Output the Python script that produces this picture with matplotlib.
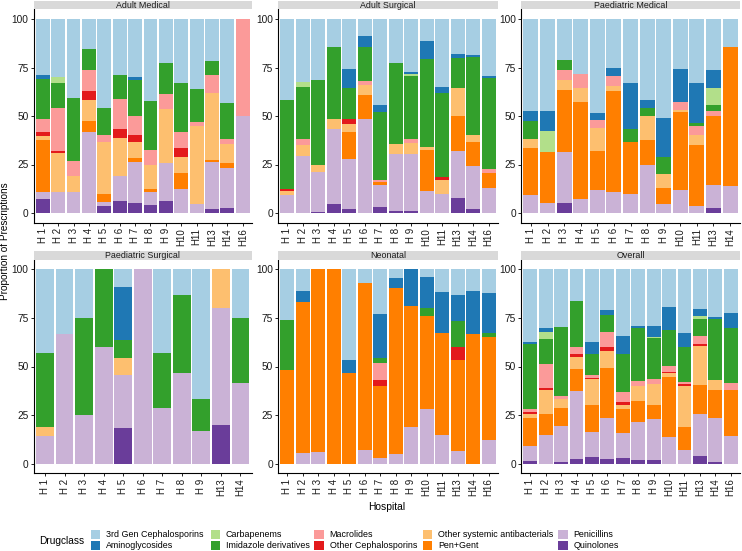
import numpy as np
import matplotlib
matplotlib.use("Agg")
import matplotlib.pyplot as plt
from matplotlib.patches import Rectangle

plt.rcParams['font.family'] = ['Liberation Sans', 'DejaVu Sans']

# ---------------- data ----------------
drug_classes = ["3rd Gen Cephalosporins", "Aminoglycosides", "Carbapenems",
                "Imidazole derivatives", "Macrolides", "Other Cephalosporins",
                "Other systemic antibacterials", "Pen+Gent", "Penicillins", "Quinolones"]
class_colors = ["#A6CEE3", "#1F78B4", "#B2DF8A", "#33A02C", "#FB9A99",
                "#E31A1C", "#FDBF6F", "#FF7F00", "#CAB2D6", "#6A3D9A"]

# cumulative percentage tops per bar, stacked from the bottom in the order:
# Quinolones, Penicillins, Pen+Gent, Other systemic, Other Ceph, Macrolides,
# Imidazole, Carbapenems, Aminoglycosides  (3rd Gen Ceph fills up to 100)
hosp_adult = ["H 1", "H 2", "H 3", "H 4", "H 5", "H 6", "H 7", "H 8", "H 9",
              "H10", "H11", "H13", "H14", "H16"]
hosp_paed_med = ["H 1", "H 2", "H 3", "H 4", "H 5", "H 6", "H 7", "H 8", "H 9",
                 "H10", "H11", "H13", "H14"]
hosp_paed_surg = ["H 1", "H 2", "H 3", "H 4", "H 5", "H 6", "H 7", "H 8", "H 9",
                  "H13", "H14"]
hosp_neo = ["H 1", "H 2", "H 3", "H 4", "H 5", "H 6", "H 7", "H 8", "H 9",
            "H10", "H11", "H13", "H14", "H16"]

adult_medical = [
    [7, 11, 37.5, 39.5, 42, 48.7, 69, 69, 71],
    [0, 11, 11, 31, 32, 54, 67, 70, 70],
    [0, 11, 11, 19, 19, 27, 59.5, 59.5, 59.5],
    [0, 42, 47.3, 58, 63, 73.7, 84.3, 84.3, 84.3],
    [3.8, 5.7, 9.6, 36.7, 36.7, 40, 54, 54, 54],
    [6.2, 19, 19, 38.7, 43.5, 58.7, 71, 71, 71],
    [5, 26.3, 28.6, 36.7, 40, 50, 68.5, 68.5, 70],
    [4.1, 10.8, 12.4, 25, 25, 32.7, 57.7, 57.7, 57.7],
    [6.4, 25.8, 25.8, 53.4, 53.4, 61.3, 77.5, 77.5, 77.5],
    [0, 12.4, 20.8, 28.9, 33.6, 41.5, 66.8, 66.8, 66.8],
    [0, 4.8, 4.8, 45, 45, 47, 63.7, 63.7, 63.7],
    [2, 26.3, 27.5, 62, 62, 71, 78.3, 78.3, 78.3],
    [2.4, 23, 25.8, 35.8, 35.8, 38.4, 56.5, 56.5, 56.5],
    [0, 50, 50, 50, 50, 100, 100, 100, 100],
]
adult_surgical = [
    [0, 9.5, 9.5, 11.4, 12.2, 12.2, 58.2, 58.2, 58.2],
    [0, 29.3, 29.3, 35.3, 35.3, 37.9, 64.7, 67.6, 67.6],
    [0.7, 21.3, 21.3, 25, 25, 25, 68.5, 68.5, 68.5],
    [4.8, 43.5, 43.5, 48.7, 48.7, 48.7, 85.4, 85.4, 85.4],
    [1.9, 28, 41.8, 46.1, 48.2, 48.2, 64.2, 64.2, 74.2],
    [0, 48.2, 60.8, 65.9, 65.9, 68, 85.7, 85.7, 91.2],
    [3.1, 14.3, 16, 16, 16, 17.2, 52.2, 52.2, 55.6],
    [1, 30.3, 30.3, 35.5, 35.5, 35.5, 77.1, 77.1, 77.1],
    [1, 30.3, 30.3, 36.1, 36.1, 37.9, 70.6, 71.9, 72.6],
    [0, 11.2, 32.4, 34.1, 34.1, 34.1, 79.2, 79.2, 88.8],
    [0, 9.6, 9.6, 16.9, 18.6, 18.6, 62.1, 62.1, 64.7],
    [7.9, 31.8, 49.9, 64.2, 64.2, 64.2, 80, 80, 81.9],
    [1.9, 24.3, 36.7, 40.1, 40.1, 40.1, 80.5, 80.5, 81.4],
    [0, 13.1, 20.7, 20.7, 20.7, 22.9, 69.7, 69.7, 70.7],
]
paediatric_medical = [
    [0, 9.5, 33.6, 37.9, 37.9, 37.9, 47.5, 47.5, 52.5],
    [0, 5.2, 31.5, 31.5, 31.5, 31.5, 31.5, 42.2, 52.7],
    [5.3, 31.5, 63.3, 68.5, 68.5, 73.7, 78.8, 78.8, 78.8],
    [0, 7.1, 57.3, 64.2, 64.2, 71.6, 71.6, 71.6, 71.6],
    [0, 11.7, 32, 43.9, 43.9, 47.8, 47.8, 47.8, 51.8],
    [0, 10.7, 63, 65.4, 65.4, 70.6, 70.6, 70.6, 74.5],
    [0, 10, 36.5, 36.5, 36.5, 36.5, 43.4, 43.4, 66.8],
    [0, 25, 37.5, 49.9, 49.9, 49.9, 54, 54, 58.5],
    [0, 4.5, 13.1, 20, 20, 20, 28.9, 28.9, 48.9],
    [0, 11.7, 52.2, 53, 53, 57.1, 57.1, 57.1, 74],
    [0, 3.4, 34.9, 40.1, 40.1, 44.9, 46.6, 46.6, 66.8],
    [2.8, 14.6, 49.9, 49.9, 49.9, 52.7, 55.6, 64.5, 73.7],
    [0, 14.1, 85.7, 85.7, 85.7, 85.7, 85.7, 85.7, 85.7],
]
paediatric_surgical = [
    [0, 14.2, 14.2, 19, 19, 19, 57.1, 57.1, 57.1],
    [0, 66.7, 66.7, 66.7, 66.7, 66.7, 66.7, 66.7, 66.7],
    [0, 25, 25, 25, 25, 25, 75, 75, 75],
    [0, 60, 60, 60, 60, 60, 100, 100, 100],
    [18.2, 45.5, 45.5, 54.5, 54.5, 54.5, 63.6, 63.6, 90.9],
    [0, 100, 100, 100, 100, 100, 100, 100, 100],
    [0, 28.6, 28.6, 28.6, 28.6, 28.6, 57.1, 57.1, 57.1],
    [0, 46.7, 46.7, 46.7, 46.7, 46.7, 86.7, 86.7, 86.7],
    [0, 16.7, 16.7, 16.7, 16.7, 16.7, 33.3, 33.3, 33.3],
    [20, 80, 80, 100, 100, 100, 100, 100, 100],
    [0, 41.7, 41.7, 41.7, 41.7, 41.7, 75, 75, 75],
]
neonatal = [
    [0, 0, 48.2, 48.2, 48.2, 48.2, 74, 74, 74],
    [0, 5.3, 83.2, 83.2, 83.2, 83.2, 83.2, 83.2, 88.8],
    [0, 5.8, 100, 100, 100, 100, 100, 100, 100],
    [0, 0, 100, 100, 100, 100, 100, 100, 100],
    [0, 0, 46.5, 46.5, 46.5, 46.5, 46.5, 46.5, 53.3],
    [0, 7, 92.8, 92.8, 92.8, 92.8, 92.8, 92.8, 92.8],
    [0, 2.9, 40.1, 40.1, 42.9, 51.6, 54.2, 54.2, 77],
    [0, 4.8, 90.4, 90.4, 90.4, 90.4, 90.4, 90.4, 95.4],
    [0, 19, 81, 81, 81, 81, 81, 81, 100],
    [0, 28.1, 76, 76, 76, 76, 80, 80, 95.9],
    [0, 14.8, 67.4, 67.4, 67.4, 67.4, 67.4, 67.4, 88.2],
    [0, 6.5, 53.3, 53.3, 60, 60, 73.2, 73.2, 86.8],
    [0, 0, 66.6, 66.6, 66.6, 66.6, 66.6, 66.6, 88.7],
    [0, 12.2, 65, 65, 65, 65, 67.4, 67.4, 87.7],
]
overall = [
    [1.4, 8.9, 23.5, 25.4, 26.6, 28, 61.6, 61.6, 62.4],
    [0, 14.6, 25.6, 37.9, 38.8, 51.3, 64.2, 67.6, 69.6],
    [0.7, 19.2, 28.8, 33.1, 33.1, 35, 70.3, 70.3, 70.3],
    [2.6, 37.6, 48.7, 54.9, 56.3, 60, 83.7, 83.7, 83.7],
    [3.3, 16.3, 30.2, 43.4, 44.3, 45.6, 56.3, 56.3, 62.8],
    [2.4, 23.7, 49.1, 58, 60, 67.6, 76.3, 76.3, 78.9],
    [2.7, 16, 28.1, 30.2, 31.9, 37, 56.4, 56.4, 65.7],
    [1.9, 21.6, 32.2, 40, 40, 42.5, 69.6, 69.6, 70.8],
    [1.9, 23.2, 30.2, 40.8, 40.8, 43.4, 64.8, 65.3, 70.8],
    [0, 13.9, 44.6, 46.5, 47.3, 50.1, 68.6, 68.6, 80.8],
    [0, 6.9, 19, 40, 40.8, 42.2, 60.2, 60.2, 67.2],
    [4.1, 25.4, 40.5, 60.7, 61.4, 65.9, 74.4, 76.2, 79.4],
    [1, 23.5, 38.1, 43.1, 43.1, 43.1, 74.4, 74.4, 75.6],
    [0, 14.4, 38.1, 38.1, 38.1, 41.3, 70, 70, 77.7],
]

panels = [
    ("Adult Medical", hosp_adult, adult_medical),
    ("Adult Surgical", hosp_adult, adult_surgical),
    ("Paediatric Medical", hosp_paed_med, paediatric_medical),
    ("Paediatric Surgical", hosp_paed_surg, paediatric_surgical),
    ("Neonatal", hosp_neo, neonatal),
    ("Overall", hosp_neo, overall),
]

# ---------------- layout ----------------
W, H = 742, 551
fig = plt.figure(figsize=(W / 100, H / 100), dpi=100)

col_l = [33.5, 278, 521]
col_r = [252, 498, 740]
row_t = [9.3, 259.6]
row_b = [222.7, 473.4]
strip_h = 8.3

stack_colors = class_colors[::-1]  # bottom -> top

tick_col = "#1a1a1a"
for i, (title, hosp, cum) in enumerate(panels):
    r, c = divmod(i, 3)
    l, rr = col_l[c], col_r[c]
    t, b = row_t[r], row_b[r]
    ax = fig.add_axes([l / W, 1 - b / H, (rr - l) / W, (b - t) / H])
    cum = np.array(cum, dtype=float)
    n = len(hosp)
    full = np.column_stack([np.zeros(n), cum, np.full(n, 100.0)])
    x = np.arange(n)
    for k in range(full.shape[1] - 1):
        h = full[:, k + 1] - full[:, k]
        ax.bar(x, h, bottom=full[:, k], width=0.9, color=stack_colors[k],
               linewidth=0)
    ax.set_xlim(-0.6, n - 1 + 0.6)
    ax.set_ylim(-5, 105)
    ax.set_yticks([0, 25, 50, 75, 100])
    ax.set_xticks(x)
    ax.set_xticklabels(hosp, rotation=90, fontsize=7, color=tick_col)
    ax.tick_params(axis='y', labelsize=7.3, labelcolor=tick_col, length=2.2,
                   width=0.6, pad=1.5)
    ax.tick_params(axis='x', length=2.2, width=0.6, pad=1.5)
    for s in ("top", "right"):
        ax.spines[s].set_visible(False)
    for s in ("left", "bottom"):
        ax.spines[s].set_linewidth(0.8)
    # strip
    sax = fig.add_axes([l / W, 1 - t / H, (rr - l) / W, strip_h / H])
    sax.set_facecolor("#D9D9D9")
    sax.set_xticks([])
    sax.set_yticks([])
    for s in sax.spines.values():
        s.set_visible(False)
    sax.text(0.5, 0.45, title, ha="center", va="center", fontsize=6.4,
             color="#1a1a1a", transform=sax.transAxes)

# axis titles
fig.text(5.0 / W, 1 - 241 / H, "Proportion of Prescriptions", rotation=90,
         ha="center", va="center", fontsize=7.2, color="black")
fig.text(387 / W, 1 - 507 / H, "Hospital", ha="center", va="center",
         fontsize=7.4, color="black")

# legend (drawn in pixel coordinates)
lg = fig.add_axes([0, 0, 1, 1])
lg.set_xlim(0, W)
lg.set_ylim(H, 0)
lg.axis("off")
lg.text(84, 540.5, "Drugclass", ha="right", va="center", fontsize=7.3,
        color="black")
key_x = [90.5, 210.5, 314, 422.5, 558]
key_y = [529.5, 540.5]
key_s = 9.5
for j, (name, col) in enumerate(zip(drug_classes, class_colors)):
    cc, rw = divmod(j, 2)
    kx, ky = key_x[cc], key_y[rw]
    lg.add_patch(Rectangle((kx, ky), key_s, key_s, facecolor=col,
                           edgecolor="none"))
    lg.text(kx + key_s + 6, ky + key_s / 2, name, ha="left", va="center",
            fontsize=6.4, color="black")

fig.savefig("out.png", dpi=100)
